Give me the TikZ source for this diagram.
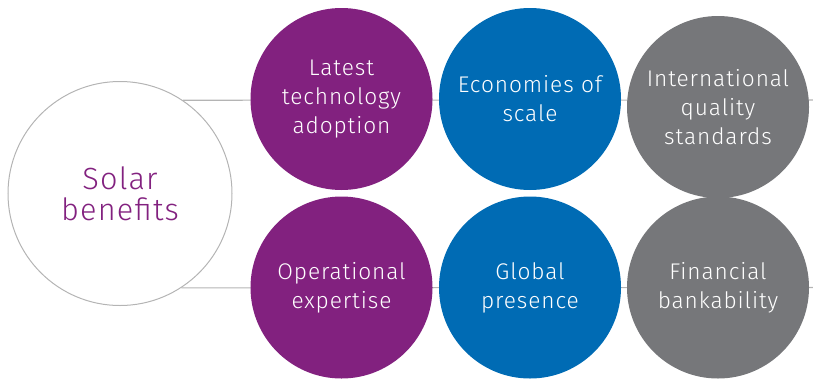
\documentclass[tikz,border=0pt]{standalone}
\usepackage{fontspec}
\setmainfont{Fira Sans}[UprightFont=* Light, LetterSpace=4]
\definecolor{solarpurple}{HTML}{82217F}
\definecolor{solarblue}{HTML}{006BB4}
\definecolor{solargray}{HTML}{76777A}
\definecolor{linegray}{HTML}{B4B4B4}
\begin{document}
\begin{tikzpicture}[x=0.75pt, y=-0.75pt,
    benefit/.style={circle, minimum size=136.5pt, inner sep=0pt, align=center,
        text=white, font=\fontsize{17}{21.75}\selectfont},
    link/.style={draw=linegray, line width=0.8pt}]
    \useasboundingbox (0,0) rectangle (813,379);
    \node[circle, draw=linegray, line width=0.75pt, minimum size=168pt, align=center,
        text=solarpurple, font=\fontsize{23}{23.5}\selectfont] (sb) at (120,193.5) {Solar\\benefits};
    \coordinate (e1) at (813,100);
    \coordinate (e2) at (813,287.5);
    \path[link] (sb.56.6) edge (e1);
    \path[link] (sb.-57) edge (e2);
    \node[benefit, fill=solarpurple] (tech) at (341.5,99) {Latest\\technology\\adoption};
    \node[benefit, fill=solarblue] (scale) at (530,99) {Economies of\\scale};
    \node[benefit, fill=solargray, yshift=-6pt] (quality) at (718,99) {International\\quality\\standards};
    \node[benefit, fill=solarpurple] (ops) at (341.5,287.5) {Operational\\expertise};
    \node[benefit, fill=solarblue] (global) at (530,287.5) {Global\\presence};
    \node[benefit, fill=solargray] (bank) at (718,287.5) {Financial\\bankability};
\end{tikzpicture}
\end{document}
